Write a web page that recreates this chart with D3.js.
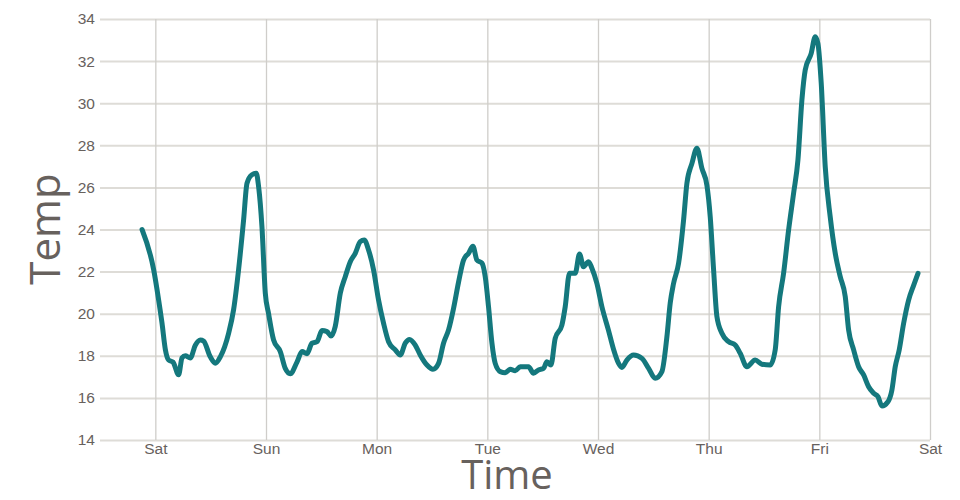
<!DOCTYPE html>
<html>
<head>
<meta charset="utf-8">
<script src="https://cdn.jsdelivr.net/npm/d3@7"></script>
<style>
  html, body { margin: 0; padding: 0; background: #fff; }
  svg { display: block; font-family: "Open Sans", sans-serif; }
</style>
</head>
<body>
<svg id="chart" width="960" height="500"></svg>
<script>
// Hours since Saturday 00:00
const hours = [
  -2.88, -0.37, 0.72, 1.45, 2.17, 2.88, 3.84, 5.05, 5.79, 6.50, 7.59, 8.67, 9.76, 10.47,
  11.92, 13.01, 14.09, 15.89, 16.98, 18.06, 19.14, 19.88, 20.96, 21.90, 22.40, 23.13, 23.85,
  24.56, 25.65, 27.10, 28.18, 29.27, 30.72, 31.81, 32.89, 33.97, 35.06, 36.14, 37.23, 38.09,
  39.02, 40.11, 41.19, 42.28, 43.36, 44.44, 45.31, 46.24, 47.33, 48.41, 49.50, 50.58, 52.03,
  53.12, 54.20, 55.13, 56.37, 57.45, 58.91, 60.21, 61.42, 62.50, 63.59, 64.67, 65.76, 66.84,
  67.92, 68.88, 69.74, 70.83, 71.54, 72.26, 73.00, 73.71, 74.80, 75.88, 76.96, 78.05, 79.13,
  80.93, 82.02, 83.10, 84.19, 84.92, 85.79, 86.72, 88.17, 88.89, 89.82, 91.06, 91.99, 92.86,
  93.94, 94.68, 95.76, 96.85, 98.29, 99.38, 100.46, 101.18, 102.26, 103.72, 105.53, 106.98,
  108.40, 109.86, 110.94, 111.66, 112.39, 113.48, 114.56, 115.28, 116.37, 117.45, 118.54,
  119.62, 120.34, 121.07, 121.79, 122.87, 124.32, 125.75, 126.84, 128.29, 130.09, 131.54,
  133.35, 134.43, 135.17, 136.25, 137.34, 138.42, 139.36, 140.22, 140.94, 142.24, 143.11,
  143.69, 144.41, 145.28, 146.36, 147.45, 148.53, 149.62, 150.35, 151.44, 152.52, 153.61,
  154.69, 155.78, 156.71, 157.58, 158.88, 159.74, 160.46, 161.32, 162.28, 163.36, 164.47, 165.40
];
const temps = [
  24.0, 22.1, 20.65, 19.55, 18.3, 17.8, 17.7, 17.1, 17.9, 18.0, 17.9, 18.5, 18.75, 18.7,
  17.95, 17.65, 17.95, 19.07, 20.2, 22.1, 24.45, 26.2, 26.6, 26.67, 26.03, 24.1, 20.97,
  20.0, 18.75, 18.2, 17.4, 17.15, 17.7, 18.2, 18.1, 18.6, 18.67, 19.2, 19.15, 18.94,
  19.4, 20.97, 21.76, 22.47, 22.87, 23.42, 23.5, 23.03, 22.08, 20.65, 19.54, 18.67, 18.28,
  18.04, 18.6, 18.78, 18.51, 18.04, 17.56, 17.36, 17.64, 18.6, 19.23, 20.25, 21.5, 22.55,
  22.87, 23.2, 22.55, 22.4, 21.76, 20.33, 18.6, 17.64, 17.25, 17.2, 17.36, 17.29, 17.48,
  17.48, 17.17, 17.33, 17.4, 17.72, 17.56, 18.83, 19.46, 20.33, 21.92, 21.92, 22.84, 22.23,
  22.47, 22.16, 21.44, 20.33, 19.2, 18.3, 17.64, 17.45, 17.8, 18.04, 17.88, 17.4,
  16.93, 17.25, 18.9, 20.5, 21.44, 22.4, 24.45, 26.2, 27.14, 27.86, 26.9,
  26.1, 24.6, 22.08, 19.86, 19.07, 18.67, 18.51, 18.12, 17.48, 17.8, 17.6,
  17.56, 18.28, 20.33, 21.92, 23.98, 25.72, 27.3, 30.15, 31.58, 32.37, 33.16,
  32.84, 30.95, 26.98, 24.6, 22.87, 21.76, 20.81, 19.23, 18.28, 17.48, 17.09,
  16.53, 16.22, 16.06, 15.62, 15.82, 16.38, 17.48, 18.28, 19.54, 20.65, 21.36, 21.92
];
const dayLabels = ["Sat", "Sun", "Mon", "Tue", "Wed", "Thu", "Fri", "Sat"];
const yTicks = [14, 16, 18, 20, 22, 24, 26, 28, 30, 32, 34];
const xTitle = "Time";
const yTitle = "Temp";

const base = new Date(2023, 0, 7); // a Saturday
const toDate = h => new Date(base.getTime() + h * 3600e3);
const data = hours.map((h, i) => ({ t: toDate(h), v: temps[i] }));
const dayTicks = dayLabels.map((d, i) => toDate(i * 24));

const margin = { top: 19, right: 30, bottom: 60, left: 100 };
const W = 960, H = 500;
const svg = d3.select("#chart");

const x = d3.scaleTime()
  .domain([toDate(-12), toDate(168)])
  .range([margin.left, W - margin.right]);
const y = d3.scaleLinear()
  .domain([14, 34])
  .range([H - margin.bottom, margin.top]);

const textColor = "#67615d";

// horizontal gridlines + y labels
const yAxis = svg.append("g")
  .attr("transform", `translate(${margin.left},0)`)
  .call(d3.axisLeft(y).tickValues(yTicks).tickSize(-(W - margin.left - margin.right)).tickPadding(6));
yAxis.select(".domain").remove();
yAxis.selectAll(".tick line").attr("stroke", "#dedcd7").attr("stroke-width", 2);
yAxis.selectAll(".tick text").attr("fill", textColor).attr("font-size", 15.5).attr("x", -5);

// vertical gridlines + x labels
const xAxis = svg.append("g")
  .attr("transform", `translate(0,${H - margin.bottom})`)
  .call(d3.axisBottom(x).tickValues(dayTicks)
    .tickFormat((d, i) => dayLabels[i])
    .tickSize(-(H - margin.top - margin.bottom)).tickPadding(5));
xAxis.select(".domain").remove();
xAxis.selectAll(".tick line").attr("stroke", "#cfcdca").attr("stroke-width", 1.3);
xAxis.selectAll(".tick text").attr("fill", textColor).attr("font-size", 15.5).attr("dy", "0.55em");

// line
const line = d3.line()
  .x(d => x(d.t))
  .y(d => y(d.v))
  .curve(d3.curveMonotoneX);

svg.append("path")
  .datum(data)
  .attr("fill", "none")
  .attr("stroke", "#14787d")
  .attr("stroke-width", 5)
  .attr("stroke-linejoin", "round")
  .attr("stroke-linecap", "round")
  .attr("d", line);

// titles
svg.append("text")
  .attr("x", 507)
  .attr("y", 489)
  .attr("text-anchor", "middle")
  .attr("fill", textColor)
  .attr("font-size", 40)
  .text(xTitle);

svg.append("text")
  .attr("transform", `translate(60,229) rotate(-90)`)
  .attr("text-anchor", "middle")
  .attr("fill", textColor)
  .attr("font-size", 42)
  .text(yTitle);
</script>
</body>
</html>
